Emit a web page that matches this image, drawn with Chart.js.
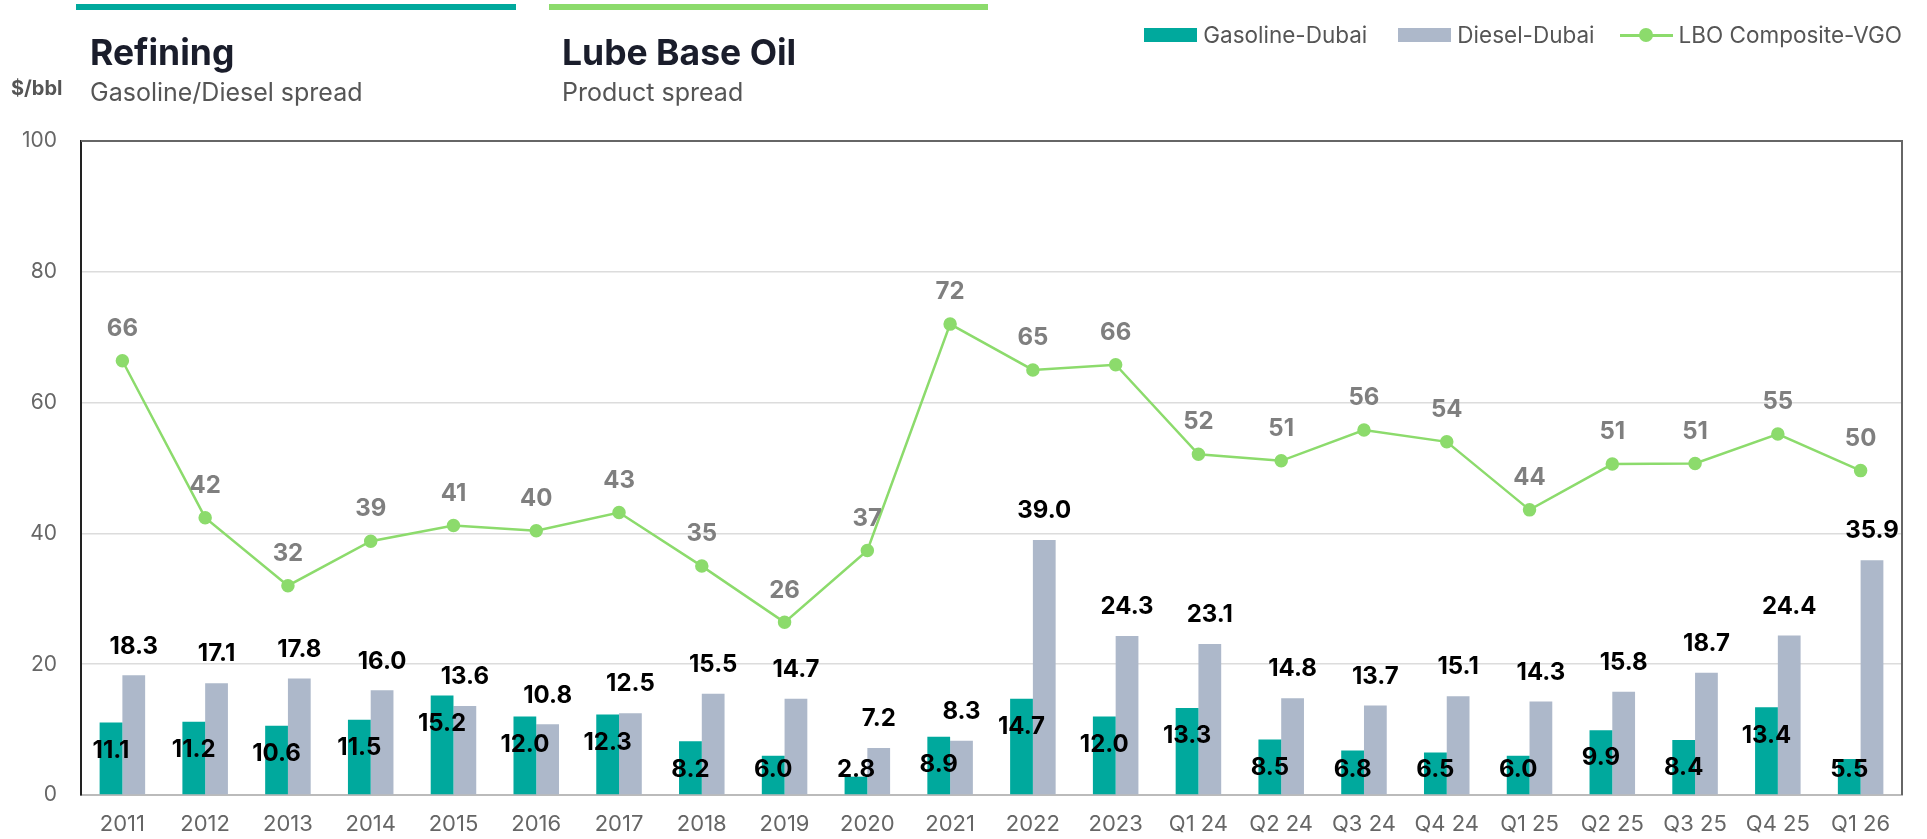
<!DOCTYPE html>
<html>
<head>
<meta charset="utf-8">
<script src="https://cdn.jsdelivr.net/npm/chart.js@4.4.1/dist/chart.umd.min.js"></script>
<style>
  html, body { margin: 0; padding: 0; background: #fff; }
  body { width: 1927px; height: 839px; position: relative; overflow: hidden; font-family: Inter, "Noto Sans", sans-serif; }
  #wrap { position: absolute; left: 0; top: 0; width: 1927px; height: 839px; }
  .bar { position: absolute; height: 6px; top: 4px; }
  .title { position: absolute; font-weight: 700; font-size: 35.5px; color: #1a1d2b; line-height: 1; }
  .sub { position: absolute; font-size: 25px; color: #555; line-height: 1; }
  .unit { position: absolute; left: 11px; top: 78px; font-size: 20px; font-weight: 700; color: #555; line-height: 1; }
  #legend { position: absolute; top: 20px; right: 25px; height: 30px; display: flex; align-items: center; font-size: 22.5px; color: #555; line-height: 1; }
  .li { display: flex; align-items: center; margin-left: 31px; }
  .sw { width: 53px; height: 14px; margin-right: 6px; }
  .lw { width: 53px; height: 14px; margin-right: 6px; position: relative; }
  .lw:before { content: ""; position: absolute; left: 0; right: 0; top: 5.5px; height: 3px; background: #8cdb6c; }
  .lw:after { content: ""; position: absolute; left: 19.5px; top: 0; width: 14px; height: 14px; border-radius: 50%; background: #8cdb6c; }
</style>
</head>
<body>
<div id="wrap"><canvas id="c" width="1927" height="839"></canvas></div>
<div class="bar" style="left:76px;width:440px;background:#00a99d"></div>
<div class="bar" style="left:549px;width:439px;background:#8cdb6c"></div>
<div class="title" style="left:90px;top:35px">Refining</div>
<div class="sub" style="left:90px;top:80px">Gasoline/Diesel spread</div>
<div class="title" style="left:562px;top:35px">Lube Base Oil</div>
<div class="sub" style="left:562px;top:80px">Product spread</div>
<div class="unit">$/bbl</div>
<div id="legend">
  <div class="li" style="margin-left:0"><div class="sw" style="background:#00a99d"></div>Gasoline-Dubai</div>
  <div class="li"><div class="sw" style="background:#adb8ca"></div>Diesel-Dubai</div>
  <div class="li" style="margin-left:25px"><div class="lw"></div>LBO Composite-VGO</div>
</div>
<script>
const categories = ["2011","2012","2013","2014","2015","2016","2017","2018","2019","2020","2021","2022","2023","Q1 24","Q2 24","Q3 24","Q4 24","Q1 25","Q2 25","Q3 25","Q4 25","Q1 26"];
const gasolineDubai = [11.1,11.2,10.6,11.5,15.2,12.0,12.3,8.2,6.0,2.8,8.9,14.7,12.0,13.3,8.5,6.8,6.5,6.0,9.9,8.4,13.4,5.5];
const dieselDubai = [18.3,17.1,17.8,16.0,13.6,10.8,12.5,15.5,14.7,7.2,8.3,39.0,24.3,23.1,14.8,13.7,15.1,14.3,15.8,18.7,24.4,35.9];
const lboComposite = [66.4,42.4,32.0,38.8,41.2,40.4,43.2,35.0,26.4,37.4,72.0,65.0,65.8,52.1,51.1,55.8,54.0,43.6,50.6,50.7,55.2,49.6];
const yTicks = [0,20,40,60,80,100];

const labelPlugin = {
  id: 'valueLabels',
  afterDatasetsDraw(chart) {
    const ctx = chart.ctx;
    const zeroY = chart.scales.y.getPixelForValue(0);
    ctx.save();
    ctx.textAlign = 'center';
    ctx.textBaseline = 'middle';
    chart.data.datasets.forEach((ds, i) => {
      const meta = chart.getDatasetMeta(i);
      meta.data.forEach((el, j) => {
        const v = ds.data[j];
        let y, txt;
        if (ds.type === 'line') {
          ctx.font = '700 24px Inter';
          ctx.fillStyle = '#7f7f7f';
          txt = String(Math.round(v));
          y = el.y - 32;
        } else if (i === 0) {
          ctx.font = '700 24px Inter';
          ctx.fillStyle = '#000';
          txt = v.toFixed(1);
          y = Math.min(el.y + 28, zeroY - 25);
        } else {
          ctx.font = '700 24px Inter';
          ctx.fillStyle = '#000';
          txt = v.toFixed(1);
          y = el.y - 29;
        }
        ctx.fillText(txt, el.x, y);
      });
    });
    ctx.restore();
  }
};

const framePlugin = {
  id: 'frame',
  afterDraw(chart) {
    const a = chart.chartArea, ctx = chart.ctx;
    ctx.save();
    ctx.lineWidth = 2;
    ctx.strokeStyle = '#666';
    ctx.beginPath();
    ctx.moveTo(a.left, a.top); ctx.lineTo(a.right, a.top); ctx.lineTo(a.right, a.bottom);
    ctx.stroke();
    ctx.restore();
  }
};

new Chart(document.getElementById('c'), {
  data: {
    labels: categories,
    datasets: [
      { type: 'bar', label: 'Gasoline-Dubai', data: gasolineDubai, backgroundColor: '#00a99d', order: 1, barPercentage: 1.0, categoryPercentage: 0.55 },
      { type: 'bar', label: 'Diesel-Dubai', data: dieselDubai, backgroundColor: '#adb8ca', order: 1, barPercentage: 1.0, categoryPercentage: 0.55 },
      { type: 'line', label: 'LBO Composite-VGO', data: lboComposite, borderColor: '#8cdb6c', backgroundColor: '#8cdb6c', borderWidth: 2.5, pointRadius: 5.5, pointHoverRadius: 5.5, tension: 0, order: 0 }
    ]
  },
  options: {
    responsive: false,
    animation: false,
    layout: { padding: { top: 141, right: 25, left: 0, bottom: 0 } },
    plugins: { legend: { display: false }, tooltip: { enabled: false } },
    scales: {
      x: {
        grid: { display: false, drawTicks: false },
        border: { color: '#bbb', width: 2 },
        ticks: { color: '#666', font: { family: 'Inter', size: 22 }, padding: 16, maxRotation: 0, autoSkip: false },
        afterFit(s) { s.height = 44; }
      },
      y: {
        min: 0, max: 100,
        afterBuildTicks(s) { s.ticks = yTicks.map(v => ({ value: v })); },
        grid: { color: '#dcdcdc', lineWidth: 1.5, drawTicks: false },
        border: { color: '#222', width: 2 },
        ticks: { color: '#666', font: { family: 'Inter', size: 21 }, padding: 24 },
        afterFit(s) { s.width = 81; }
      }
    }
  },
  plugins: [labelPlugin, framePlugin]
});
</script>
</body>
</html>
